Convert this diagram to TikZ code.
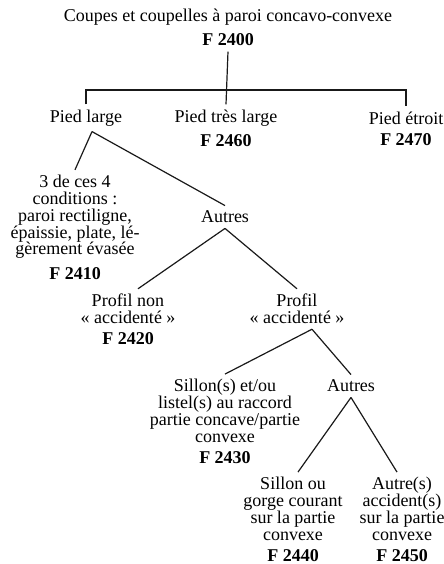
\documentclass[tikz,border=0pt]{standalone}
\usepackage{fontspec}
\setmainfont{Liberation Serif}
\usetikzlibrary{positioning}
\tikzstyle{taxon}=[
	align=center,
	inner sep=2.5pt,
	font=\fontsize{9}{8.4}\selectfont
]
\tikzstyle{refno}=[
	taxon,
	font=\fontsize{9}{8.4}\selectfont\bfseries,
	node distance=-1pt
]
\tikzstyle{branch}=[
	line width=0.6pt,
	black!90
]

\begin{document}
\begin{tikzpicture}[x=0.5pt,y=-0.5pt]
\useasboundingbox (0,0) rectangle (444,564);
\node [taxon] (coupes) at (228,17) {Coupes et coupelles à paroi concavo-convexe};
\node [refno] (f2400)[below=of coupes] {F 2400};
\node [taxon] (large) at (86,118) {Pied large};
\node [taxon] (tlarge) at (226,118) {Pied très large};
\node [refno] (f2460)[below=of tlarge] {F 2460};
\node [taxon] (etroit) at (406,118) {Pied étroit};
\node [refno] (f2470)[below=of etroit] {F 2470};
\node [taxon] (cond) at (75,217) {3 de ces 4\\conditions :\\paroi rectiligne,\\épaissie, plate, lé-\\gèrement évasée};
\node [refno] (f2410)[below=of cond] {F 2410};
\node [taxon] (autres) at (225,217) {Autres};
\node [taxon] (nonacc) at (128,309) {Profil non\\«~accidenté~»};
\node [refno] (f2420)[below=of nonacc] {F 2420};
\node [taxon] (acc) at (297,309) {Profil\\«~accidenté~»};
\node [taxon] (sillons) at (225,411) {Sillon(s) et/ou\\listel(s) au raccord\\partie concave/partie\\convexe};
\node [refno] (f2430)[below=of sillons] {F 2430};
\node [taxon] (autresacc) at (351,386) {Autres};
\node [taxon] (gorge) at (293,509) {Sillon ou\\gorge courant\\sur la partie\\convexe};
\node [refno] (f2440)[below=of gorge] {F 2440};
\node [taxon] (accidents) at (402,509) {Autre(s)\\accident(s)\\sur la partie\\convexe};
\node [refno] (f2450)[below=of accidents] {F 2450};
\coordinate (bar) at (226,90);

% branches
\draw [branch] (f2400.south) -- (tlarge.north);
\draw [branch] (large.north) |- (bar) -| (etroit.north);
\draw [branch] ([xshift=3pt]large.south) -- (cond.north);
\draw [branch] ([xshift=3pt]large.south) -- (autres.north);
\draw [branch] (autres.south) -- ([xshift=5pt]nonacc.north);
\draw [branch] (autres.south) -- (acc.north);
\draw [branch] ([xshift=7.5pt]acc.south) -- (sillons.north);
\draw [branch] ([xshift=7.5pt]acc.south) -- (autresacc.north);
\draw [branch] (autresacc.south) -- ([xshift=2.5pt]gorge.north);
\draw [branch] (autresacc.south) -- ([xshift=-2.5pt]accidents.north);
\end{tikzpicture}
\end{document}
